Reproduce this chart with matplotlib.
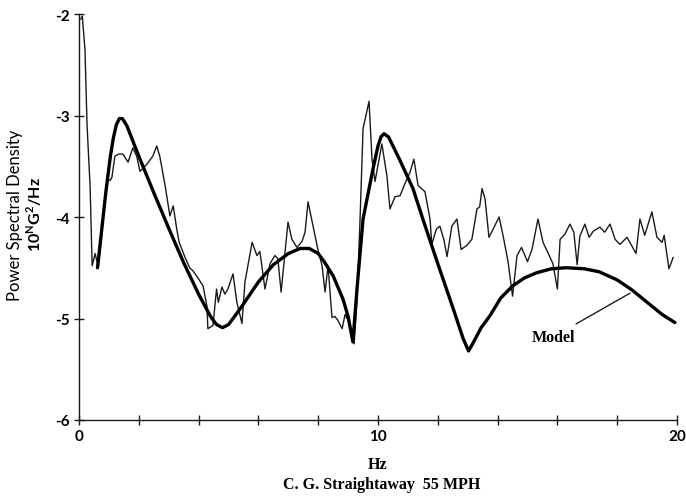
import matplotlib
matplotlib.use("Agg")
import matplotlib.pyplot as plt

# Measured PSD (thin line)
meas_hz = [0.06, 0.11, 0.20, 0.27, 0.37, 0.44, 0.54, 0.64, 0.77, 0.87, 0.97, 1.04, 1.10, 1.20, 1.33,
           1.47, 1.64, 1.80, 1.93, 2.04, 2.27, 2.47, 2.60, 2.70, 2.88, 3.04, 3.15, 3.27, 3.35, 3.55,
           3.70, 3.81, 4.00, 4.15, 4.28, 4.31, 4.48, 4.60, 4.66, 4.78, 4.88, 4.98, 5.15, 5.28, 5.45,
           5.55, 5.79, 5.95, 6.05, 6.22, 6.39, 6.55, 6.65, 6.76, 6.89, 6.99, 7.12, 7.29, 7.46, 7.56,
           7.66, 7.83, 7.99, 8.13, 8.23, 8.33, 8.46, 8.56, 8.66, 8.80, 8.90, 9.00, 9.13, 9.20, 9.30,
           9.40, 9.50, 9.70, 9.80, 9.90, 10.13, 10.30, 10.40, 10.57, 10.74, 10.90, 11.07, 11.20, 11.34,
           11.57, 11.74, 11.80, 11.95, 12.07, 12.20, 12.31, 12.47, 12.64, 12.78, 12.97, 13.14, 13.31,
           13.40, 13.48, 13.58, 13.71, 13.85, 14.05, 14.18, 14.35, 14.50, 14.65, 14.80, 15.00, 15.15,
           15.35, 15.52, 15.68, 15.85, 16.00, 16.09, 16.25, 16.42, 16.55, 16.66, 16.75, 16.92, 17.06,
           17.20, 17.42, 17.58, 17.76, 17.93, 18.09, 18.33, 18.48, 18.63, 18.76, 18.92, 19.16, 19.33,
           19.50, 19.57, 19.73, 19.87]
meas_psd = [-2.05, -2.02, -2.35, -3.10, -3.69, -4.48, -4.36, -4.49, -4.15, -3.79, -3.63, -3.64, -3.61, -3.40, -3.38,
            -3.38, -3.46, -3.32, -3.40, -3.55, -3.48, -3.40, -3.30, -3.40, -3.69, -3.99, -3.89, -4.12, -4.25, -4.40,
            -4.50, -4.53, -4.61, -4.68, -4.88, -5.10, -5.07, -4.71, -4.84, -4.69, -4.76, -4.71, -4.56, -4.84, -5.05,
            -4.64, -4.25, -4.38, -4.34, -4.71, -4.46, -4.38, -4.41, -4.74, -4.35, -4.05, -4.22, -4.30, -4.24, -4.15,
            -3.85, -4.09, -4.32, -4.48, -4.74, -4.48, -4.99, -4.98, -5.02, -5.10, -4.96, -5.02, -5.17, -5.25, -4.81,
            -4.02, -3.13, -2.86, -3.43, -3.65, -3.28, -3.60, -3.92, -3.80, -3.79, -3.67, -3.56, -3.43, -3.69,
            -3.75, -4.02, -4.27, -4.12, -4.09, -4.22, -4.39, -4.09, -4.02, -4.32, -4.28, -4.22, -3.92,
            -3.90, -3.72, -3.82, -4.20, -4.12, -4.00, -4.18, -4.44, -4.78, -4.38, -4.30, -4.44, -4.32,
            -4.02, -4.25, -4.35, -4.46, -4.71, -4.22, -4.17, -4.07, -4.15, -4.47, -4.19, -4.07, -4.20,
            -4.14, -4.10, -4.15, -4.07, -4.22, -4.27, -4.20, -4.28, -4.36, -4.02, -4.18, -3.95, -4.20,
            -4.25, -4.18, -4.51, -4.40]

# Model PSD (thick line)
model_hz = [0.62, 0.75, 0.9, 1.05, 1.15, 1.25, 1.35, 1.45, 1.6, 1.8, 2.0, 2.5, 3.0, 3.5, 4.0, 4.4, 4.6,
            4.8, 5.0, 5.4, 6.0, 6.5, 7.0, 7.4, 7.7, 8.0, 8.2, 8.5, 8.83, 9.0, 9.16, 9.3, 9.5, 9.83, 10.0,
            10.1, 10.2, 10.35, 10.7, 11.17, 11.5, 12.0, 12.5, 12.85, 13.03, 13.2, 13.45, 13.75, 14.1, 14.5,
            14.9, 15.3, 15.8, 16.3, 16.9, 17.4, 18.0, 18.5, 19.0, 19.5, 19.93]
model_psd = [-4.50, -4.15, -3.75, -3.40, -3.22, -3.09, -3.03, -3.03, -3.10, -3.25, -3.40, -3.76, -4.11, -4.45,
             -4.76, -4.98, -5.06, -5.09, -5.06, -4.90, -4.64, -4.47, -4.36, -4.31, -4.31, -4.36, -4.44, -4.58,
             -4.81, -4.98, -5.23, -4.70, -4.02, -3.53, -3.30, -3.21, -3.18, -3.21, -3.42, -3.72, -4.02, -4.46,
             -4.89, -5.20, -5.32, -5.23, -5.09, -4.97, -4.80, -4.68, -4.60, -4.55, -4.51, -4.50, -4.51, -4.54,
             -4.62, -4.72, -4.84, -4.96, -5.04]

x_ticks = [0, 2, 4, 6, 8, 10, 12, 14, 16, 18, 20]
x_labels = ["0", "", "", "", "", "10", "", "", "", "", "20"]
y_ticks = [-6, -5, -4, -3, -2]
y_labels = ["-6", "-5", "-4", "-3", "-2"]

W, H = 686, 502
fig = plt.figure(figsize=(W / 100, H / 100), dpi=100)
ax = fig.add_axes([79 / W, 1 - 421 / H, (677 - 79) / W, (421 - 15) / H])

ink = "#1a1a1a"
ax.plot(meas_hz, meas_psd, color=ink, lw=1.0, solid_joinstyle="round")
ax.plot(model_hz, model_psd, color="#000000", lw=2.4, solid_joinstyle="round", solid_capstyle="round")

ax.set_xlim(0, 20)
ax.set_ylim(-6, -2)
for s in ("top", "right"):
    ax.spines[s].set_visible(False)
for s in ("left", "bottom"):
    ax.spines[s].set_color(ink)
    ax.spines[s].set_linewidth(1.0)

sans = ["Lato", "DejaVu Sans"]
serif = ["Liberation Serif", "DejaVu Serif"]

ax.set_xticks(x_ticks)
ax.set_xticklabels(x_labels, fontfamily=sans, fontsize=11, fontweight="bold")
ax.set_yticks(y_ticks)
ax.set_yticklabels(y_labels, fontfamily=sans, fontsize=11, fontweight="bold")
ax.tick_params(direction="inout", length=7, width=1.0, color=ink, pad=3)

# Annotation
ax.annotate("Model", xy=(18.43, -4.75), xytext=(16.6, -5.18),
            fontfamily=serif, fontsize=11.5, fontweight="bold", ha="right", va="center",
            arrowprops=dict(arrowstyle="-", color=ink, lw=1.0, shrinkA=3, shrinkB=0))

# Labels
fig.text(378 / W, 1 - 465 / H, "Hz", fontfamily=serif, fontsize=11.5, fontweight="bold",
         ha="center", va="center")
fig.text(382 / W, 1 - 485 / H, "C. G. Straightaway  55 MPH", fontfamily=serif, fontsize=11.5,
         fontweight="bold", ha="center", va="center")
fig.text(15 / W, 1 - 215 / H, "Power Spectral Density", fontfamily=sans, fontsize=12,
         rotation=90, ha="center", va="center", color="#000000")
fig.text(34 / W, 1 - 214 / H, r"10$^{\mathregular{N}}$G$^{\mathregular{2}}$/Hz", fontfamily=sans,
         fontsize=11.5, fontweight="bold", rotation=90, ha="center", va="center")

fig.savefig("out.png", dpi=100)
